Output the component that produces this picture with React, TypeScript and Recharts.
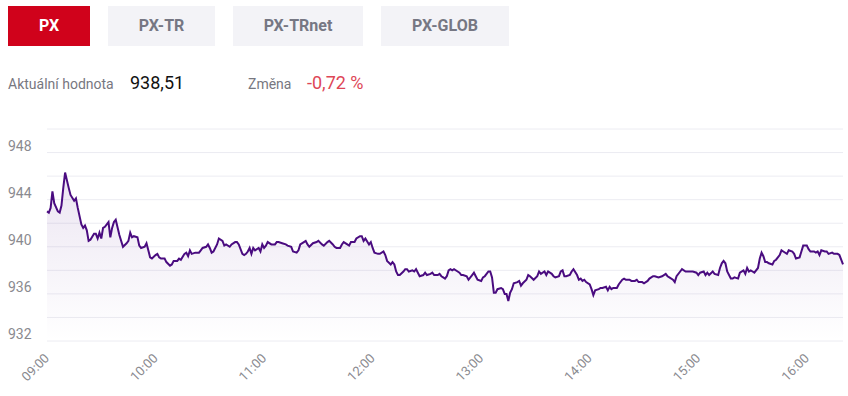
import { ComposedChart, Area, XAxis, YAxis, CartesianGrid } from 'recharts'

const tabs = ['PX', 'PX-TR', 'PX-TRnet', 'PX-GLOB']
const currentValue = '938,51'
const change = '-0,72 %'

const yTicks = [932, 934, 936, 938, 940, 942, 944, 946, 948, 950]
const xTickLabels = ['09:00', '10:00', '11:00', '12:00', '13:00', '14:00', '15:00', '16:00']

const times = [
  '09:00','09:01','09:02','09:03','09:04','09:06','09:07','09:08','09:09','09:10',
  '09:12','09:13','09:15','09:16','09:17','09:19','09:20','09:21','09:22','09:23',
  '09:24','09:26','09:27','09:28','09:29','09:30','09:31','09:32','09:34','09:35',
  '09:36','09:37','09:38','09:40','09:42','09:44','09:45','09:46','09:47','09:48',
  '09:50','09:51','09:52','09:54','09:55','09:56','09:57','09:58','10:00','10:01',
  '10:02','10:03','10:05','10:06','10:08','10:09','10:10','10:12','10:13','10:14',
  '10:16','10:17','10:18','10:19','10:20','10:22','10:24','10:25','10:26','10:28',
  '10:29','10:30','10:31','10:32','10:34','10:35','10:37','10:38','10:39','10:41',
  '10:42','10:44','10:45','10:46','10:48','10:49','10:50','10:51','10:52','10:53',
  '10:54','10:55','10:57','10:58','10:59','11:00','11:01','11:02','11:04','11:06',
  '11:07','11:08','11:10','11:12','11:13','11:15','11:16','11:18','11:19','11:20',
  '11:22','11:23','11:24','11:25','11:27','11:29','11:30','11:32','11:33','11:35',
  '11:36','11:38','11:39','11:40','11:42','11:43','11:44','11:46','11:47','11:48',
  '11:50','11:51','11:53','11:54','11:55','11:56','11:58','11:59','12:00','12:01',
  '12:03','12:04','12:06','12:07','12:08','12:10','12:11','12:12','12:13','12:14',
  '12:15','12:17','12:18','12:19','12:20','12:22','12:23','12:24','12:25','12:26',
  '12:28','12:29','12:30','12:32','12:33','12:34','12:36','12:37','12:38','12:39',
  '12:40','12:41','12:42','12:43','12:44','12:45','12:47','12:48','12:49','12:50',
  '12:52','12:53','12:55','12:56','12:57','12:58','13:00','13:01','13:02','13:04',
  '13:05','13:06','13:07','13:08','13:09','13:11','13:12','13:13','13:14','13:15',
  '13:16','13:17','13:18','13:20','13:21','13:22','13:23','13:25','13:26','13:27',
  '13:29','13:31','13:32','13:33','13:35','13:36','13:37','13:39','13:40','13:41',
  '13:43','13:44','13:45','13:46','13:47','13:49','13:50','13:51','13:53','13:54',
  '13:55','13:56','13:57','13:58','14:00','14:01','14:02','14:03','14:05','14:06',
  '14:07','14:09','14:10','14:11','14:12','14:13','14:15','14:16','14:18','14:19',
  '14:20','14:22','14:23','14:25','14:26','14:27','14:29','14:30','14:31','14:32',
  '14:33','14:35','14:36','14:38','14:40','14:42','14:43','14:44','14:46','14:47',
  '14:48','14:50','14:51','14:53','14:54','14:55','14:57','14:59','15:00','15:01',
  '15:03','15:04','15:05','15:06','15:08','15:09','15:11','15:12','15:13','15:14',
  '15:15','15:16','15:18','15:19','15:20','15:22','15:23','15:25','15:26','15:27',
  '15:28','15:29','15:30','15:31','15:33','15:34','15:35','15:36','15:37','15:38',
  '15:39','15:41','15:42','15:43','15:45','15:46','15:47','15:49','15:50','15:52',
  '15:53','15:54','15:56','15:57','15:58','16:00','16:01','16:02','16:04','16:05',
  '16:06','16:07','16:08','16:10','16:11','16:12','16:14','16:15','16:17','16:18',
  '16:19','16:20',
]

const pxValues = [
  943.0, 942.9, 943.3, 944.7, 943.7, 943.0, 942.9, 943.5, 945.0, 946.3,
  945.0, 944.4, 943.9, 944.1, 943.3, 941.9, 941.6, 941.8, 941.4, 940.5,
  940.6, 941.1, 941.1, 940.7, 941.2, 940.7, 941.6, 941.7, 942.1, 940.8,
  941.6, 942.1, 942.3, 941.0, 940.0, 940.3, 940.5, 941.2, 940.8, 940.9,
  940.8, 940.1, 939.9, 940.0, 940.3, 939.7, 939.1, 939.0, 939.3, 939.4,
  939.1, 939.0, 939.0, 938.7, 938.4, 938.5, 938.8, 938.8, 939.0, 938.9,
  939.4, 939.5, 939.2, 939.7, 939.4, 939.5, 939.5, 939.7, 939.9, 940.0,
  940.2, 939.9, 939.5, 939.6, 940.2, 940.7, 940.5, 940.1, 940.2, 940.0,
  940.2, 940.4, 940.4, 940.2, 939.4, 939.3, 939.4, 939.6, 939.9, 939.4,
  939.9, 939.7, 939.9, 939.6, 940.2, 939.9, 940.1, 940.4, 940.2, 940.2,
  940.4, 940.4, 940.3, 940.2, 940.1, 940.0, 939.6, 939.5, 939.7, 940.2,
  940.4, 940.5, 940.2, 940.0, 940.3, 940.4, 940.5, 940.2, 940.1, 940.4,
  940.5, 940.2, 940.0, 939.9, 939.9, 940.2, 940.4, 940.2, 940.1, 940.4,
  940.4, 940.7, 940.9, 940.9, 940.5, 940.7, 940.2, 940.4, 939.9, 939.5,
  939.4, 939.4, 939.6, 939.3, 938.8, 938.5, 938.7, 938.5, 937.9, 937.6,
  937.6, 937.9, 938.1, 938.1, 937.9, 938.0, 937.9, 938.1, 937.8, 937.5,
  937.6, 937.8, 937.6, 937.7, 937.8, 937.6, 937.6, 937.7, 937.5, 937.4,
  937.3, 937.5, 938.0, 938.1, 938.0, 938.1, 937.9, 937.8, 937.6, 937.6,
  937.5, 937.2, 937.6, 937.8, 937.5, 937.2, 937.1, 937.4, 937.5, 937.9,
  937.9, 937.4, 936.1, 936.1, 936.4, 936.5, 936.4, 936.0, 936.0, 935.4,
  936.1, 936.4, 936.9, 937.0, 937.1, 936.7, 936.9, 937.2, 937.6, 937.5,
  937.2, 937.5, 937.9, 937.7, 937.9, 937.6, 937.9, 937.7, 937.5, 937.4,
  937.5, 937.9, 938.0, 937.5, 937.5, 937.6, 937.9, 938.1, 937.6, 937.2,
  937.3, 937.1, 937.2, 937.0, 936.8, 936.4, 935.9, 936.3, 936.4, 936.5,
  936.5, 936.6, 936.3, 936.6, 936.4, 936.5, 936.5, 936.8, 937.2, 937.3,
  937.2, 937.2, 937.1, 937.1, 937.2, 937.0, 937.0, 936.9, 937.0, 937.1,
  937.3, 937.5, 937.5, 937.4, 937.5, 937.7, 937.5, 937.4, 937.2, 937.0,
  937.5, 937.9, 938.1, 937.9, 937.9, 937.9, 937.9, 937.8, 937.6, 937.8,
  937.9, 937.6, 937.8, 937.6, 937.9, 937.7, 937.6, 938.2, 938.6, 938.8,
  938.6, 937.9, 937.3, 937.3, 937.4, 937.3, 937.8, 938.0, 937.7, 938.2,
  937.9, 938.0, 937.9, 937.8, 938.2, 939.0, 939.5, 939.2, 938.7, 938.7,
  938.6, 938.5, 938.8, 938.9, 939.3, 939.7, 939.6, 939.4, 939.7, 939.6,
  939.4, 939.0, 939.1, 939.6, 940.1, 940.1, 939.8, 939.6, 939.6, 939.5,
  939.6, 939.3, 939.7, 939.6, 939.6, 939.4, 939.5, 939.4, 939.4, 939.3,
  938.9, 938.51,
]

const toMin = (s: string) => {
  const [h, m] = s.split(':').map(Number)
  return h * 60 + m
}

const data = times.map((t, i) => ({ t: toMin(t), value: pxValues[i] }))
const xTicks = xTickLabels.map(toMin)

const FONT = 'Roboto, "Noto Sans", sans-serif'

function YTick({ y, payload }: any) {
  if (payload.value % 4 !== 0) return <g />
  return (
    <text x={8} y={y - 2} fill="#8a8a8f" fontSize={14} fontFamily={FONT}>
      {payload.value}
    </text>
  )
}

function XTick({ x, y, payload }: any) {
  const h = String(Math.floor(payload.value / 60)).padStart(2, '0')
  const m = String(payload.value % 60).padStart(2, '0')
  return (
    <text
      transform={`translate(${x + 3},${y + 10}) rotate(-45)`}
      textAnchor="end"
      fill="#8a8a8f"
      fontSize={13}
      fontFamily={FONT}
    >
      {`${h}:${m}`}
    </text>
  )
}

export default function App() {
  return (
    <div style={{ position: 'absolute', left: 0, top: 0, width: 848, height: 396, background: '#fff', fontFamily: FONT }}>
      {tabs.map((t, i) => {
        const lefts = [8, 108, 233, 381]
        const widths = [82, 107, 130, 128]
        return (
          <div
            key={t}
            style={{
              position: 'absolute', left: lefts[i], top: 6, width: widths[i], height: 40,
              background: i === 0 ? '#d0021b' : '#f3f3f7',
              color: i === 0 ? '#fff' : '#767783',
              fontWeight: 700, fontSize: 16, lineHeight: '40px', textAlign: 'center',
            }}
          >
            {t}
          </div>
        )
      })}
      <div style={{ position: 'absolute', left: 8, top: 72, fontSize: 14, color: '#77777f', lineHeight: '24px' }}>Aktuální hodnota</div>
      <div style={{ position: 'absolute', left: 130, top: 70, fontSize: 18, color: '#111', lineHeight: '26px' }}>{currentValue}</div>
      <div style={{ position: 'absolute', left: 248, top: 72, fontSize: 14, color: '#77777f', lineHeight: '24px' }}>Změna</div>
      <div style={{ position: 'absolute', left: 307, top: 70, fontSize: 18, color: '#de4656', lineHeight: '26px' }}>{change}</div>

      <div style={{ position: 'absolute', left: 0, top: 110 }}>
        <ComposedChart width={848} height={286} data={data} margin={{ top: 19, right: 5, left: 0, bottom: 0 }}>
          <defs>
            <linearGradient id="pxFill" x1="0" y1="0" x2="0" y2="1">
              <stop offset="0%" stopColor="#4b0f84" stopOpacity={0.18} />
              <stop offset="100%" stopColor="#4b0f84" stopOpacity={0} />
            </linearGradient>
          </defs>
          <CartesianGrid vertical={false} stroke="#ececf2" strokeWidth={1} />
          <XAxis
            dataKey="t"
            type="number"
            domain={[540, 980]}
            ticks={xTicks}
            axisLine={false}
            tickLine={false}
            tick={<XTick />}
            height={55}
            interval={0}
          />
          <YAxis
            domain={[932, 950]}
            ticks={yTicks}
            axisLine={false}
            tickLine={false}
            tick={<YTick />}
            width={47}
            interval={0}
          />
          <Area
            type="linear"
            dataKey="value"
            stroke="#4a0c80"
            strokeWidth={2}
            fill="url(#pxFill)"
            isAnimationActive={false}
            dot={false}
            activeDot={false}
          />
        </ComposedChart>
      </div>
    </div>
  )
}
